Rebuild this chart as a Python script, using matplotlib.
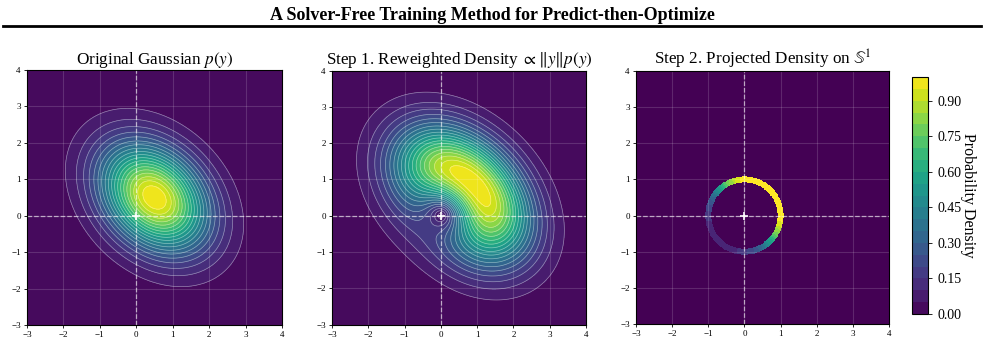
import numpy as np
import matplotlib
matplotlib.use("Agg")
import matplotlib.pyplot as plt
from matplotlib.colors import BoundaryNorm
from matplotlib.lines import Line2D

plt.rcParams['font.family'] = ['Liberation Serif', 'DejaVu Serif']
plt.rcParams['mathtext.fontset'] = 'stix'
plt.rcParams['axes.unicode_minus'] = True

# ---- data (Gaussian parameters) ----
mean = np.array([0.5, 0.5])
cov = np.array([[1.0, -0.3],
                [-0.3, 1.0]])
x_range = [-3, 4]
y_range = [-3, 4]
levels = np.linspace(0, 1, 21)
cbar_ticks = [0.00, 0.15, 0.30, 0.45, 0.60, 0.75, 0.90]
titles = [r"Original Gaussian $p(y)$",
          r"Step 1. Reweighted Density $\propto \|y\|p(y)$",
          r"Step 2. Projected Density on $\mathbb{S}^1$"]
suptitle = "A Solver-Free Training Method for Predict-then-Optimize"
ring_radii = [0.945, 1.055]

# ---- computation ----
def gauss(X, Y):
    inv = np.linalg.inv(cov)
    dx = X - mean[0]
    dy = Y - mean[1]
    q = inv[0, 0] * dx * dx + 2 * inv[0, 1] * dx * dy + inv[1, 1] * dy * dy
    return np.exp(-0.5 * q) / (2 * np.pi * np.sqrt(np.linalg.det(cov)))

n = 400
xs = np.linspace(x_range[0], x_range[1], n)
ys = np.linspace(y_range[0], y_range[1], n)
X, Y = np.meshgrid(xs, ys)
P = gauss(X, Y)
Z1 = P / P.max()
W = np.sqrt(X**2 + Y**2) * P
Z2 = W / W.max()

# projected (angular) density on the unit circle
rs = np.linspace(0, 12, 3000)
def ang_density(theta):
    t = np.asarray(theta)[..., None]
    vals = rs * gauss(rs * np.cos(t), rs * np.sin(t))
    return np.trapezoid(vals, rs, axis=-1)

th_edges = np.linspace(-np.pi, np.pi, 181)
th_mid = 0.5 * (th_edges[:-1] + th_edges[1:])
dens = ang_density(th_mid)
dens = dens / dens.max()
TH, RR = np.meshgrid(th_edges, ring_radii)
RX = RR * np.cos(TH)
RY = RR * np.sin(TH)

# ---- figure ----
fig = plt.figure(figsize=(9.85, 3.43), dpi=100)
W_px, H_px = 985, 343
def ax_rect(l, t, r, b):
    return [l / W_px, 1 - b / H_px, (r - l) / W_px, (b - t) / H_px]

axes = [fig.add_axes(ax_rect(27, 70, 282, 325)),
        fig.add_axes(ax_rect(332, 70, 586, 325)),
        fig.add_axes(ax_rect(636, 70, 889, 325))]

cmap = plt.get_cmap('viridis')
norm = BoundaryNorm(levels, cmap.N)

cf1 = axes[0].contourf(X, Y, Z1, levels=levels, cmap=cmap)
axes[0].contour(X, Y, Z1, levels=levels[1:], colors='white', linewidths=0.5, alpha=0.45)
cf2 = axes[1].contourf(X, Y, Z2, levels=levels, cmap=cmap)
axes[1].contour(X, Y, Z2, levels=levels[1:], colors='white', linewidths=0.5, alpha=0.45)
axes[2].set_facecolor(cmap(0.0))
axes[2].pcolormesh(RX, RY, dens[None, :], cmap=cmap, norm=norm,
                   shading='flat', antialiased=False, edgecolors='face', linewidth=0.3)

for ax, title in zip(axes, titles):
    ax.set_xlim(x_range)
    ax.set_ylim(y_range)
    ax.set_aspect('equal')
    ax.set_xticks(range(x_range[0], x_range[1] + 1))
    ax.set_yticks(range(y_range[0], y_range[1] + 1))
    ax.tick_params(labelsize=6.5, length=2.5, width=0.6, pad=2)
    ax.grid(True, color='white', alpha=0.15, linewidth=0.8)
    ax.axhline(0, color='white', linestyle='--', linewidth=0.9, alpha=0.6)
    ax.axvline(0, color='white', linestyle='--', linewidth=0.9, alpha=0.6)
    ax.plot([0], [0], marker='+', color='white', markersize=6, markeredgewidth=1.2)
    ax.set_title(title, fontsize=12.3, pad=2)
    for s in ax.spines.values():
        s.set_linewidth(0.8)

cax = fig.add_axes(ax_rect(912, 77, 928, 314))
cb = fig.colorbar(cf2, cax=cax, ticks=cbar_ticks)
cb.ax.tick_params(labelsize=10, length=3, width=0.6)
cb.ax.set_yticklabels([f"{t:.2f}" for t in cbar_ticks])
cb.set_label("Probability Density", rotation=270, fontsize=11.5, labelpad=11)
cb.outline.set_linewidth(0.8)

fig.text(0.5, 1 - 15 / H_px, suptitle, ha='center', va='center',
         fontsize=13, fontweight='bold')
fig.add_artist(Line2D([3 / W_px, 981 / W_px], [1 - 25.5 / H_px, 1 - 25.5 / H_px],
                      color='black', linewidth=2, transform=fig.transFigure))

fig.savefig("out.png", dpi=100)
